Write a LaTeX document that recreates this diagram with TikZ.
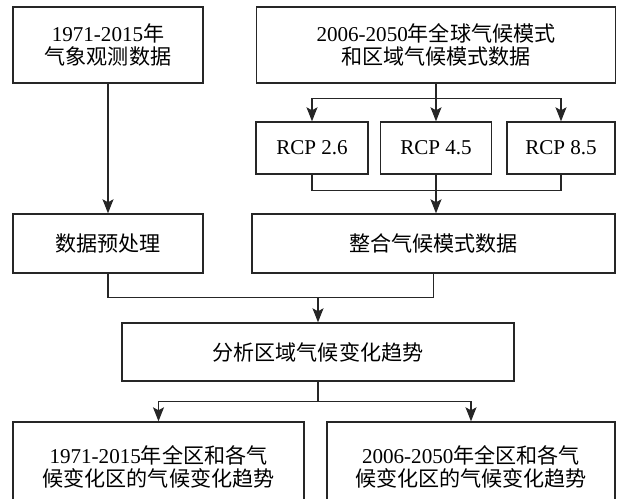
\documentclass[tikz,border=0pt]{standalone}
\usepackage{fontspec}
\setmainfont{Liberation Serif}
\newfontfamily\cjk{Noto Sans CJK SC}
\usetikzlibrary{arrows.meta}

\newcommand{\zh}[1]{{\cjk #1}}

\begin{document}
\begin{tikzpicture}[
  >={Stealth[length=2.8mm,width=2.2mm,inset=0.6mm]},
  font=\fontsize{12}{13.4}\selectfont,
  box/.style={draw=black!85, line width=0.8pt, align=center, inner sep=0pt, fill=white},
  arr/.style={->, draw=black!85, line width=0.7pt},
  link/.style={draw=black!85, line width=0.7pt}
]
\useasboundingbox (0,0) rectangle (12.34,-9.98);
\clip (0,0) rectangle (12.34,-9.98);

% data sources
\node[box, minimum width=3.8cm, minimum height=1.52cm] (obs) at (2.16,-0.90) {1971-2015\zh{年}\\\zh{气象观测数据}};
\node[box, minimum width=7.18cm, minimum height=1.52cm] (gcm) at (8.72,-0.90) {2006-2050\zh{年全球气候模式}\\\zh{和区域气候模式数据}};

% scenarios
\node[box, minimum width=2.24cm, minimum height=1.04cm] (rcp26) at (6.24,-2.96) {RCP 2.6};
\node[box, minimum width=2.22cm, minimum height=1.04cm] (rcp45) at (8.72,-2.96) {RCP 4.5};
\node[box, minimum width=2.16cm, minimum height=1.04cm] (rcp85) at (11.22,-2.96) {RCP 8.5};

\node[box, minimum width=3.8cm, minimum height=1.18cm] (pre) at (2.16,-4.87) {\zh{数据预处理}};
\node[box, minimum width=7.26cm, minimum height=1.18cm] (integ) at (8.67,-4.87) {\zh{整合气候模式数据}};

\node[box, minimum width=7.84cm, minimum height=1.16cm] (trend) at (6.36,-7.04) {\zh{分析区域气候变化趋势}};

% results
\node[box, minimum width=5.82cm, minimum height=1.8cm] (res1) at (3.17,-9.34) {1971-2015\zh{年全区和各气}\\\zh{候变化区的气候变化趋势}};
\node[box, minimum width=5.76cm, minimum height=1.8cm] (res2) at (9.42,-9.34) {2006-2050\zh{年全区和各气}\\\zh{候变化区的气候变化趋势}};

\coordinate (join) at (6.36,-5.94);

\draw[arr] (obs) -- (pre);
\draw[arr] (gcm.south) -- ++(0,-0.30) -| (rcp26.north);
\draw[arr] (gcm.south) -- (rcp45.north);
\draw[arr] (gcm.south) -- ++(0,-0.30) -| (rcp85.north);
\draw[link] (rcp26.south) -- ++(0,-0.32) -| (rcp85.south);
\draw[arr] (rcp45.south) -- (rcp45.south |- integ.north);
\draw[link] (pre.south) -- ++(0,-0.48) -| (integ.south);
\draw[arr] (join) -- (trend);
\draw[arr] (trend.south) -- ++(0,-0.40) -| (res1.north);
\draw[arr] (trend.south) -- ++(0,-0.40) -| (res2.north);
\end{tikzpicture}
\end{document}
